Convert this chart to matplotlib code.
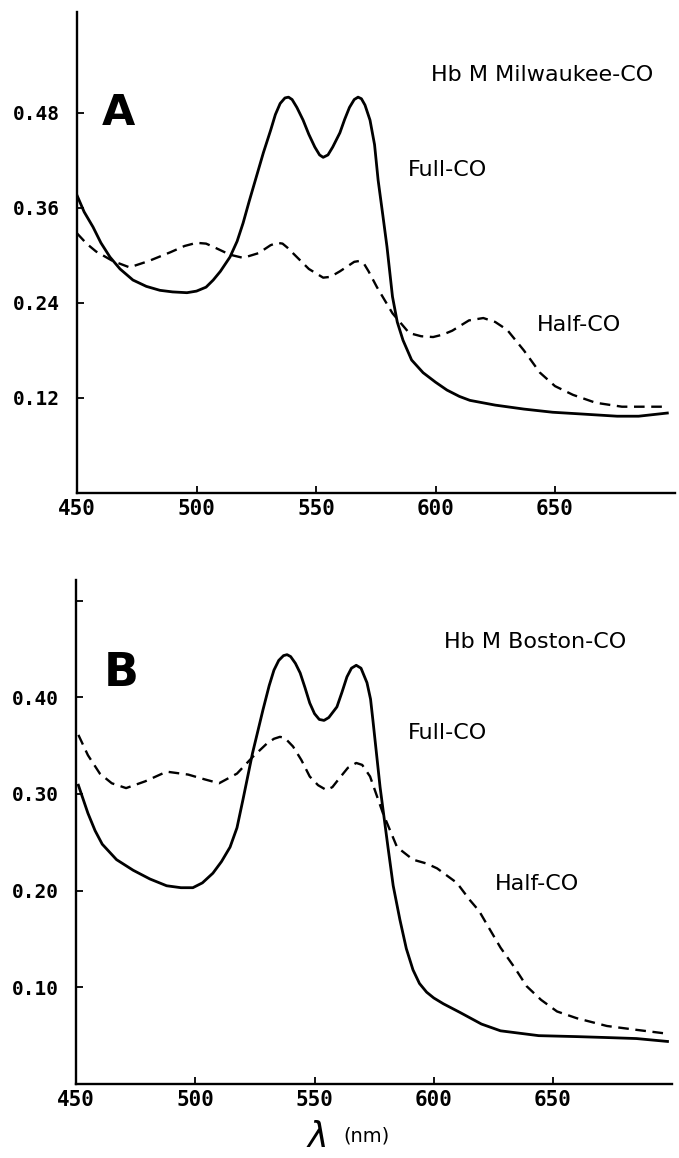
"""Two-panel CO absorption spectra (Hb M Milwaukee-CO / Hb M Boston-CO), full vs half liganded."""
import matplotlib
matplotlib.use("Agg")
import matplotlib.pyplot as plt

# ---- panel A: Hb M Milwaukee-CO (wavelength nm, absorbance) ----
A_FULL_X = [450, 453, 456.7, 460, 463.8, 468, 473.4, 479, 484.7, 490, 496, 500, 504, 507, 510,
            514, 517, 519.5, 522, 525, 528, 531, 533, 535, 537, 538.5, 540, 542, 544.6, 547,
            549.5, 551.5, 553, 555, 557, 560, 562, 564, 566, 567.6, 569, 570.5, 572.6, 574.5,
            576, 578, 579.7, 582, 584, 586.4, 590, 594.8, 600, 604.8, 610, 614.4, 625, 637, 649,
            660, 676, 685, 697]
A_FULL_Y = [0.376, 0.355, 0.336, 0.316, 0.298, 0.283, 0.269, 0.261, 0.256, 0.254, 0.253, 0.255,
            0.260, 0.269, 0.280, 0.298, 0.318, 0.341, 0.368, 0.399, 0.430, 0.458, 0.478, 0.492,
            0.499, 0.500, 0.497, 0.487, 0.471, 0.453, 0.437, 0.427, 0.424, 0.427, 0.437, 0.455,
            0.472, 0.487, 0.497, 0.500, 0.498, 0.490, 0.471, 0.440, 0.395, 0.350, 0.311, 0.248,
            0.216, 0.193, 0.168, 0.152, 0.140, 0.130, 0.122, 0.117, 0.111, 0.106, 0.102, 0.100,
            0.097, 0.097, 0.101]
A_HALF_X = [450, 454, 458, 465, 472, 480, 489, 495, 500, 504, 507, 514, 519.5, 526, 531, 533.7,
            536, 538, 542, 547, 553, 556, 560, 566, 568, 570, 572, 575.5, 582, 589, 594, 599, 603,
            607, 614, 620, 625, 630, 637, 643.7, 650, 657.5, 667, 678, 697]
A_HALF_Y = [0.328, 0.315, 0.305, 0.293, 0.285, 0.293, 0.304, 0.312, 0.316, 0.315, 0.311, 0.301,
            0.297, 0.303, 0.313, 0.316, 0.315, 0.310, 0.298, 0.283, 0.272, 0.273, 0.280, 0.292,
            0.293, 0.290, 0.280, 0.260, 0.227, 0.202, 0.198, 0.197, 0.200, 0.205, 0.218, 0.221,
            0.216, 0.206, 0.180, 0.152, 0.135, 0.124, 0.114, 0.109, 0.109]
A_YTICKS = [0.12, 0.24, 0.36, 0.48]
A_YLABELS = ["0.12", "0.24", "0.36", "0.48"]

# ---- panel B: Hb M Boston-CO ----
B_FULL_X = [451, 455, 458, 461, 467, 474, 481, 488, 494, 499, 503, 507.4, 511, 514.6, 517.5,
            520, 524, 528.4, 531, 533, 535, 537, 538.5, 540, 542, 544, 546, 548, 550, 552, 554,
            556, 559.4, 561.5, 563.6, 565.5, 567.5, 569.5, 572, 573.5, 574.5, 577.5, 580.8, 583,
            585.8, 588.5, 591.3, 594, 597, 600, 604, 611, 620, 628, 644, 660, 673, 685, 698]
B_FULL_Y = [0.309, 0.280, 0.262, 0.248, 0.232, 0.221, 0.212, 0.205, 0.203, 0.203, 0.208, 0.218,
            0.230, 0.245, 0.265, 0.294, 0.342, 0.387, 0.412, 0.428, 0.438, 0.443, 0.444, 0.442,
            0.435, 0.425, 0.410, 0.394, 0.383, 0.377, 0.376, 0.379, 0.390, 0.405, 0.421, 0.430,
            0.433, 0.430, 0.415, 0.398, 0.376, 0.307, 0.245, 0.205, 0.170, 0.140, 0.118, 0.104,
            0.095, 0.089, 0.083, 0.074, 0.062, 0.055, 0.050, 0.049, 0.048, 0.047, 0.044]
B_HALF_X = [451, 455, 460, 465, 471, 479, 488, 497, 504, 510, 517.5, 524, 530, 533, 535.5,
            537.5, 541, 544.5, 548, 551.5, 555, 557.5, 560.7, 564, 567.5, 570, 573.3, 578.7,
            584.6, 591.3, 597, 601.4, 609.7, 615.2, 619, 623, 628, 634, 639, 645, 651.7, 660,
            672.6, 685, 698]
B_HALF_Y = [0.361, 0.340, 0.321, 0.311, 0.306, 0.313, 0.323, 0.320, 0.315, 0.311, 0.321, 0.338,
            0.352, 0.357, 0.359, 0.358, 0.349, 0.335, 0.318, 0.309, 0.304, 0.307, 0.317, 0.327,
            0.332, 0.330, 0.318, 0.280, 0.245, 0.232, 0.228, 0.223, 0.208, 0.190, 0.179, 0.162,
            0.141, 0.120, 0.101, 0.087, 0.075, 0.068, 0.060, 0.056, 0.052]
B_YTICKS = [0.1, 0.2, 0.3, 0.4, 0.5]
B_YLABELS = ["0.10", "0.20", "0.30", "0.40", ""]

XTICKS = [450, 500, 550, 600, 650]
XLABELS = ["450", "500", "550", "600", "650"]

W, H = 679, 1158
fig = plt.figure(figsize=(W / 100, H / 100), dpi=100)
fig.patch.set_facecolor("white")

SANS = "DejaVu Sans"
MONO = "DejaVu Sans Mono"


def px_axes(left, bottom_px, width, height):
    # axes rectangle from pixel geometry of the scan
    return fig.add_axes([left / W, (H - bottom_px) / H, width / W, height / H])


def style(ax, yticks, ylabels, ylim):
    ax.set_xlim(450, 700)
    ax.set_ylim(*ylim)
    for s in ("top", "right"):
        ax.spines[s].set_visible(False)
    for s in ("left", "bottom"):
        ax.spines[s].set_linewidth(1.7)
    ax.set_xticks(XTICKS, XLABELS)
    ax.set_yticks(yticks, ylabels)
    ax.tick_params(axis="both", direction="in", length=5, width=1.3, colors="black")
    ax.tick_params(axis="x", pad=4)
    ax.tick_params(axis="y", pad=12)
    for t in ax.get_xticklabels():
        t.set_fontfamily(MONO); t.set_fontweight("bold"); t.set_fontsize(15)
    for t in ax.get_yticklabels():
        t.set_fontfamily(MONO); t.set_fontweight("bold"); t.set_fontsize(14)


# panel A
axA = px_axes(77, 493, 250 * 2.39, 0.607 * 791.7)
axA.plot(A_FULL_X, A_FULL_Y, color="black", lw=2.0, solid_joinstyle="round")
axA.plot(A_HALF_X, A_HALF_Y, color="black", lw=1.7, dashes=(4.5, 2.8))
style(axA, A_YTICKS, A_YLABELS, (0, 0.607))
axA.text(467.2, 0.48, "A", fontsize=31, fontweight="bold", family=SANS, ha="center", va="center")
axA.text(644.8, 0.528, "Hb M Milwaukee-CO", fontsize=16, family=SANS, ha="center", va="center")
axA.text(605.0, 0.408, "Full-CO", fontsize=16, family=SANS, ha="center", va="center")
axA.text(660.0, 0.212, "Half-CO", fontsize=16, family=SANS, ha="center", va="center")

# panel B
axB = px_axes(76, 1084, 250 * 2.385, 0.521 * 967)
axB.plot(B_FULL_X, B_FULL_Y, color="black", lw=2.0, solid_joinstyle="round")
axB.plot(B_HALF_X, B_HALF_Y, color="black", lw=1.7, dashes=(4.5, 2.8))
style(axB, B_YTICKS, B_YLABELS, (0, 0.521))
axB.text(468.9, 0.425, "B", fontsize=33, fontweight="bold", family=SANS, ha="center", va="center")
axB.text(642.5, 0.457, "Hb M Boston-CO", fontsize=16, family=SANS, ha="center", va="center")
axB.text(605.6, 0.363, "Full-CO", fontsize=16, family=SANS, ha="center", va="center")
axB.text(643.5, 0.207, "Half-CO", fontsize=16, family=SANS, ha="center", va="center")

# axis title: lambda (nm)
fig.text(316 / W, (H - 1137) / H, r"$\lambda$", fontsize=25, ha="center", va="center")
fig.text(343 / W, (H - 1136) / H, "(nm)", fontsize=14, family=SANS, ha="left", va="center")

fig.savefig("out.png", dpi=100)
